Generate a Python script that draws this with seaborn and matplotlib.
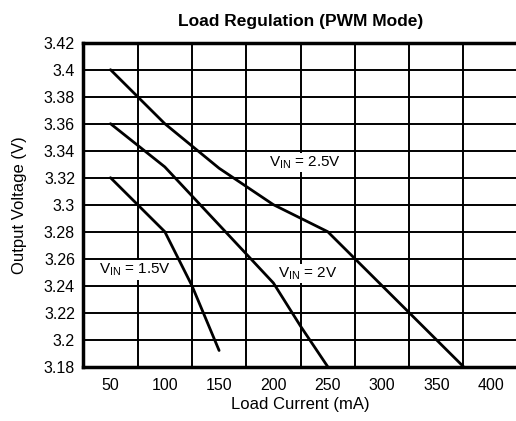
import numpy as np
import pandas as pd
import matplotlib
matplotlib.use("Agg")
import matplotlib.pyplot as plt
import seaborn as sns

# load regulation curves
i_15 = [50, 75, 100, 125, 150]
v_15 = [3.32, 3.30, 3.28, 3.24, 3.192]

i_20 = [50, 100, 150, 200, 225, 250]
v_20 = [3.36, 3.328, 3.285, 3.242, 3.21, 3.18]

i_25 = [50, 75, 100, 150, 200, 250, 275, 325, 375]
v_25 = [3.40, 3.38, 3.36, 3.327, 3.30, 3.28, 3.26, 3.22, 3.18]

x_labels = [50, 100, 150, 200, 250, 300, 350, 400]
y_ticks = [3.18, 3.2, 3.22, 3.24, 3.26, 3.28, 3.3, 3.32, 3.34, 3.36, 3.38, 3.4, 3.42]

sns.set_style("white")
plt.rcParams['font.family'] = ['Liberation Sans', 'DejaVu Sans']
plt.rcParams['mathtext.fontset'] = 'custom'
plt.rcParams['mathtext.rm'] = 'Liberation Sans'
plt.rcParams['text.color'] = 'black'
plt.rcParams['axes.labelcolor'] = 'black'

fig = plt.figure(figsize=(5.16, 4.21), dpi=100)
ax = fig.add_axes([0.1615, 0.129, 0.842, 0.7696])

for xs, ys in [(i_15, v_15), (i_20, v_20), (i_25, v_25)]:
    df = pd.DataFrame({"I": xs, "V": ys})
    sns.lineplot(data=df, x="I", y="V", ax=ax, color="black", linewidth=2, zorder=3)

ax.set_xlim(25, 425)
ax.set_ylim(3.18, 3.42)
ax.set_xticks(x_labels)
ax.set_xticks(np.arange(75, 425, 50), minor=True)
ax.set_xticklabels([str(v) for v in x_labels])
ax.set_yticks(y_ticks)
ax.set_yticklabels([f"{v:g}" for v in y_ticks])
ax.tick_params(axis="both", which="both", length=0, labelsize=11.5, colors="black")
ax.tick_params(axis="x", pad=8)
ax.tick_params(axis="y", pad=6)

ax.grid(False)
ax.xaxis.grid(True, which="minor", color="black", linewidth=1.4)
ax.yaxis.grid(True, which="major", color="black", linewidth=1.4)
for s in ax.spines.values():
    s.set_color("black")
    s.set_linewidth(2.5)

box = dict(facecolor="white", edgecolor="none", pad=1)
ax.text(229, 3.331, r"$\mathregular{V_{IN}}$ = 2.5V", fontsize=11, color="black", ha="center", va="center", bbox=box, zorder=4)
ax.text(73, 3.2516, r"$\mathregular{V_{IN}}$ = 1.5V", fontsize=11, color="black", ha="center", va="center", bbox=box, zorder=4)
ax.text(232, 3.249, r"$\mathregular{V_{IN}}$ = 2V", fontsize=11, color="black", ha="center", va="center", bbox=box, zorder=4)

ax.set_xlabel("Load Current (mA)", fontsize=12, labelpad=3, color="black")
ax.set_ylabel("Output Voltage (V)", fontsize=12, labelpad=12, color="black")
ax.set_title("Load Regulation (PWM Mode)", fontsize=12.5, fontweight="bold", pad=12, color="black")

fig.savefig("out.png", dpi=100)
